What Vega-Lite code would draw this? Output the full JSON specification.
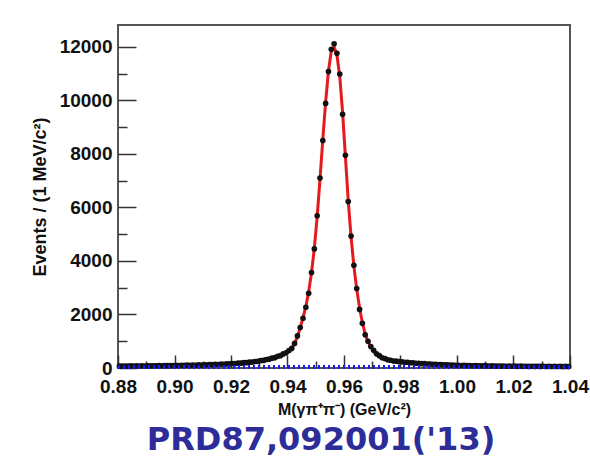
{
  "$schema": "https://vega.github.io/schema/vega-lite/v6.json",
  "width": 452,
  "height": 343,
  "autosize": {"type": "none"},
  "padding": {"left": 118, "top": 25, "right": 20, "bottom": 107},
  "background": "white",
  "config": {"view": {"stroke": "#555555", "strokeWidth": 2}, "font": "Liberation Sans"},
  "title": {"text": "PRD87,092001('13)", "orient": "bottom", "anchor": "middle", "font": "DejaVu Sans", "fontSize": 32, "fontWeight": "bold", "color": "#2d2d99", "offset": 8, "dx": -23},
  "data": {"values": [
    {"m":0.8805,"n":72,"f":71},{"m":0.8815,"n":70,"f":72},{"m":0.8825,"n":75,"f":73},{"m":0.8835,"n":69,"f":73},{"m":0.8845,"n":77,"f":74},
    {"m":0.8855,"n":73,"f":75},{"m":0.8865,"n":79,"f":76},{"m":0.8875,"n":74,"f":77},{"m":0.8885,"n":81,"f":78},{"m":0.8895,"n":76,"f":79},
    {"m":0.8905,"n":84,"f":80},{"m":0.8915,"n":79,"f":81},{"m":0.8925,"n":85,"f":82},{"m":0.8935,"n":80,"f":83},{"m":0.8945,"n":88,"f":84},
    {"m":0.8955,"n":83,"f":86},{"m":0.8965,"n":90,"f":87},{"m":0.8975,"n":86,"f":88},{"m":0.8985,"n":94,"f":90},{"m":0.8995,"n":89,"f":91},
    {"m":0.9005,"n":96,"f":93},{"m":0.9015,"n":92,"f":95},{"m":0.9025,"n":100,"f":97},{"m":0.9035,"n":96,"f":99},{"m":0.9045,"n":105,"f":101},
    {"m":0.9055,"n":100,"f":103},{"m":0.9065,"n":109,"f":105},{"m":0.9075,"n":104,"f":108},{"m":0.9085,"n":115,"f":111},{"m":0.9095,"n":110,"f":113},
    {"m":0.9105,"n":120,"f":116},{"m":0.9115,"n":117,"f":120},{"m":0.9125,"n":127,"f":123},{"m":0.9135,"n":124,"f":127},{"m":0.9145,"n":135,"f":131},
    {"m":0.9155,"n":132,"f":135},{"m":0.9165,"n":145,"f":140},{"m":0.9175,"n":141,"f":145},{"m":0.9185,"n":154,"f":150},{"m":0.9195,"n":152,"f":156},
    {"m":0.9205,"n":167,"f":162},{"m":0.9215,"n":165,"f":169},{"m":0.9225,"n":181,"f":176},{"m":0.9235,"n":180,"f":184},{"m":0.9245,"n":198,"f":193},
    {"m":0.9255,"n":199,"f":203},{"m":0.9265,"n":219,"f":214},{"m":0.9275,"n":222,"f":226},{"m":0.9285,"n":244,"f":239},{"m":0.9295,"n":250,"f":254},
    {"m":0.9305,"n":276,"f":270},{"m":0.9315,"n":284,"f":289},{"m":0.9325,"n":316,"f":310},{"m":0.9335,"n":329,"f":334},{"m":0.9345,"n":368,"f":361},
    {"m":0.9355,"n":386,"f":392},{"m":0.9365,"n":436,"f":428},{"m":0.9375,"n":462,"f":469},{"m":0.9385,"n":527,"f":518},{"m":0.9395,"n":568,"f":576},
    {"m":0.9405,"n":655,"f":646},{"m":0.9415,"n":732,"f":740},{"m":0.9425,"n":920,"f":900},{"m":0.9435,"n":1200,"f":1170},{"m":0.9445,"n":1510,"f":1500},
    {"m":0.9455,"n":1860,"f":1880},{"m":0.9465,"n":2270,"f":2300},{"m":0.9475,"n":2790,"f":2850},{"m":0.9485,"n":3570,"f":3560},{"m":0.9495,"n":4450,"f":4480},
    {"m":0.9505,"n":5690,"f":5650},{"m":0.9515,"n":7100,"f":7050},{"m":0.9525,"n":8500,"f":8550},{"m":0.9535,"n":9890,"f":9950},{"m":0.9545,"n":11080,"f":11100},
    {"m":0.9555,"n":11910,"f":11850},{"m":0.9565,"n":12120,"f":12000},{"m":0.9575,"n":11760,"f":11700},{"m":0.9585,"n":10990,"f":10900},{"m":0.9595,"n":9480,"f":9550},
    {"m":0.9605,"n":7950,"f":7900},{"m":0.9615,"n":6220,"f":6250},{"m":0.9625,"n":4930,"f":4900},{"m":0.9635,"n":3840,"f":3800},{"m":0.9645,"n":2970,"f":2950},
    {"m":0.9655,"n":2190,"f":2250},{"m":0.9665,"n":1670,"f":1700},{"m":0.9675,"n":1240,"f":1280},{"m":0.9685,"n":1000,"f":980},{"m":0.9695,"n":800,"f":790},
    {"m":0.9705,"n":660,"f":650},{"m":0.9715,"n":530,"f":540},{"m":0.9725,"n":462,"f":455},{"m":0.9735,"n":384,"f":390},{"m":0.9745,"n":351,"f":345},
    {"m":0.9755,"n":305,"f":310},{"m":0.9765,"n":290,"f":285},{"m":0.9775,"n":260,"f":265},{"m":0.9785,"n":255,"f":250},{"m":0.9795,"n":236,"f":240},
    {"m":0.9805,"n":234,"f":230},{"m":0.9815,"n":216,"f":220},{"m":0.9825,"n":214,"f":210},{"m":0.9835,"n":196,"f":200},{"m":0.9845,"n":195,"f":191},
    {"m":0.9855,"n":178,"f":182},{"m":0.9865,"n":178,"f":174},{"m":0.9875,"n":162,"f":166},{"m":0.9885,"n":163,"f":159},{"m":0.9895,"n":149,"f":152},
    {"m":0.9905,"n":150,"f":146},{"m":0.9915,"n":137,"f":140},{"m":0.9925,"n":138,"f":134},{"m":0.9935,"n":126,"f":129},{"m":0.9945,"n":128,"f":124},
    {"m":0.9955,"n":116,"f":119},{"m":0.9965,"n":118,"f":115},{"m":0.9975,"n":108,"f":111},{"m":0.9985,"n":110,"f":107},{"m":0.9995,"n":101,"f":104},
    {"m":1.0005,"n":104,"f":101},{"m":1.0015,"n":95,"f":98},{"m":1.0025,"n":98,"f":95},{"m":1.0035,"n":89,"f":92},{"m":1.0045,"n":93,"f":90},
    {"m":1.0055,"n":85,"f":88},{"m":1.0065,"n":89,"f":86},{"m":1.0075,"n":81,"f":84},{"m":1.0085,"n":85,"f":82},{"m":1.0095,"n":77,"f":80},
    {"m":1.0105,"n":82,"f":79},{"m":1.0115,"n":74,"f":77},{"m":1.0125,"n":79,"f":76},{"m":1.0135,"n":72,"f":75},{"m":1.0145,"n":76,"f":73},
    {"m":1.0155,"n":69,"f":72},{"m":1.0165,"n":74,"f":71},{"m":1.0175,"n":67,"f":70},{"m":1.0185,"n":72,"f":69},{"m":1.0195,"n":65,"f":68},
    {"m":1.0205,"n":70,"f":67},{"m":1.0215,"n":63,"f":66},{"m":1.0225,"n":69,"f":66},{"m":1.0235,"n":62,"f":65},{"m":1.0245,"n":67,"f":64},
    {"m":1.0255,"n":60,"f":63},{"m":1.0265,"n":66,"f":63},{"m":1.0275,"n":59,"f":62},{"m":1.0285,"n":65,"f":62},{"m":1.0295,"n":58,"f":61},
    {"m":1.0305,"n":64,"f":61},{"m":1.0315,"n":57,"f":60},{"m":1.0325,"n":63,"f":60},{"m":1.0335,"n":56,"f":59},{"m":1.0345,"n":62,"f":59},
    {"m":1.0355,"n":55,"f":58},{"m":1.0365,"n":61,"f":58},{"m":1.0375,"n":54,"f":57},{"m":1.0385,"n":60,"f":57},{"m":1.0395,"n":54,"f":56}
  ]},
  "resolve": {"axis": {"x": "independent", "y": "independent"}},
  "layer": [
    {
      "mark": {"type": "line", "color": "#e41a1c", "strokeWidth": 3},
      "encoding": {
        "x": {"field": "m", "type": "quantitative",
              "scale": {"domain": [0.88, 1.04], "nice": false, "zero": false},
              "axis": {"orient": "bottom", "values": [0.88,0.90,0.92,0.94,0.96,0.98,1.00,1.02,1.04], "format": ".2f",
                       "tickSize": -13, "tickWidth": 1.5, "tickColor": "#333333", "domain": false, "grid": false,
                       "labelPadding": 22, "labelFont": "Liberation Sans", "labelFontSize": 19, "labelFontWeight": "bold", "labelColor": "#111111",
                       "labelFlush": false, "labelOverlap": false,
                       "title": "M(γπ⁺π⁻) (GeV/c²)", "titleFont": "Liberation Sans", "titleFontSize": 16, "titleFontWeight": "bold", "titleColor": "#111111", "titlePadding": 5}},
        "y": {"field": "f", "type": "quantitative",
              "scale": {"domain": [0, 12820], "nice": false, "zero": true},
              "axis": {"orient": "left", "values": [0,2000,4000,6000,8000,10000,12000], "format": "d",
                       "tickSize": -18, "tickWidth": 1.5, "tickColor": "#333333", "domain": false, "grid": false,
                       "labelPadding": 24, "labelFont": "Liberation Sans", "labelFontSize": 19, "labelFontWeight": "bold", "labelColor": "#111111",
                       "labelFlush": false, "labelOverlap": false,
                       "title": "Events / (1 MeV/c²)", "titleFont": "Liberation Sans", "titleFontSize": 18, "titleFontWeight": "bold", "titleColor": "#111111", "titlePadding": 10}}
      }
    },
    {
      "mark": {"type": "circle", "color": "#111111", "opacity": 1, "size": 32},
      "encoding": {
        "x": {"field": "m", "type": "quantitative",
              "axis": {"orient": "bottom", "values": [0.89,0.91,0.93,0.95,0.97,0.99,1.01,1.03], "tickSize": -7, "tickWidth": 1.5, "tickColor": "#333333",
                       "domain": false, "grid": false, "labels": false, "title": null}},
        "y": {"field": "n", "type": "quantitative",
              "axis": {"orient": "left", "values": [1000,3000,5000,7000,9000,11000], "tickSize": -9, "tickWidth": 1.5, "tickColor": "#333333",
                       "domain": false, "grid": false, "labels": false, "title": null}}
      }
    },
    {
      "mark": {"type": "rule", "color": "#1a1aff", "strokeWidth": 2.5, "strokeDash": [2, 3]},
      "encoding": {
        "y": {"datum": 40, "type": "quantitative", "axis": null}
      }
    }
  ]
}
